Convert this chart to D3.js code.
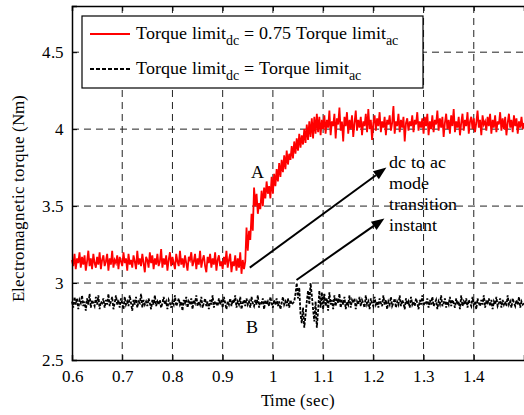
<!DOCTYPE html>
<html><head><meta charset="utf-8"><script src="https://cdn.jsdelivr.net/npm/d3@7"></script>
<style>
  @font-face { font-family: "ChartSerif"; src: local("Liberation Serif"), local("LiberationSerif"), local("LiberationSerif-Regular"); }
</style>
</head>
<body style="margin:0">
<svg width="524" height="415"></svg>
<script>
// sample grid: t = t0 + i * dt
const t0 = 0.6, dt = 0.0025;

// Torque limit_dc = 0.75 Torque limit_ac (red)
const redTorque = [
  3.15,3.11,3.19,3.09,3.16,3.13,3.20,3.10,3.17,3.12,
  3.18,3.08,3.14,3.21,3.11,3.16,3.09,3.19,3.13,3.10,
  3.17,3.12,3.20,3.09,3.15,3.18,3.11,3.14,3.19,3.08,
  3.16,3.12,3.21,3.10,3.15,3.13,3.18,3.09,3.17,3.14,
  3.11,3.20,3.13,3.16,3.08,3.19,3.12,3.15,3.10,3.18,
  3.14,3.09,3.21,3.12,3.16,3.11,3.19,3.13,3.07,3.17,
  3.15,3.10,3.20,3.13,3.18,3.09,3.16,3.12,3.19,3.11,
  3.14,3.22,3.10,3.16,3.12,3.18,3.08,3.15,3.20,3.11,
  3.17,3.13,3.09,3.19,3.14,3.11,3.21,3.12,3.16,3.10,
  3.18,3.13,3.08,3.17,3.15,3.20,3.11,3.14,3.19,3.09,
  3.16,3.12,3.21,3.10,3.15,3.18,3.11,3.07,3.17,3.13,
  3.19,3.10,3.16,3.12,3.20,3.08,3.15,3.18,3.11,3.14,
  3.09,3.17,3.12,3.21,3.10,3.15,3.19,3.07,3.14,3.11,
  3.18,3.08,3.16,3.10,3.20,3.06,3.15,3.09,
  3.14,3.36,3.21,3.34,3.28,3.45,3.34,3.62,3.50,3.58,
  3.45,3.52,3.48,3.60,3.50,3.62,3.55,3.66,3.58,3.63,
  3.55,3.69,3.58,3.71,3.63,3.74,3.66,3.78,3.69,3.80,
  3.72,3.83,3.74,3.86,3.77,3.84,3.80,3.89,3.81,3.92,
  3.84,3.94,3.86,3.97,3.88,3.96,3.90,4.00,3.91,4.03,
  3.93,4.05,3.95,4.07,3.94,4.08,3.97,4.10,3.98,4.08,
  3.96,4.06,
  4.00,4.09,3.97,4.06,4.01,4.12,3.96,4.05,4.02,4.10,
  3.94,4.07,4.03,4.14,3.99,4.05,3.92,4.08,4.02,4.11,
  3.97,4.06,4.00,4.09,3.95,4.04,4.12,3.99,4.06,4.01,
  4.08,3.96,4.05,4.02,4.10,3.98,4.13,4.00,4.06,3.93,
  4.04,4.09,3.99,4.07,4.02,4.11,3.98,4.05,4.01,4.08,
  3.96,4.06,4.03,4.09,3.99,4.04,4.15,3.97,4.05,4.02,
  4.10,3.98,4.06,4.01,4.08,3.92,4.04,4.07,3.99,4.05,
  4.02,4.09,3.98,4.06,4.03,4.11,3.99,4.05,4.01,4.07,
  3.97,4.08,4.02,4.10,3.96,4.05,4.00,4.09,3.98,4.06,
  4.03,4.12,3.99,4.07,4.01,4.08,3.95,4.04,4.10,4.00,
  4.06,3.97,4.09,4.02,4.13,3.98,4.05,4.01,4.08,3.96,
  4.04,4.10,3.99,4.06,4.02,4.11,3.97,4.05,4.08,4.00,
  4.07,3.98,4.04,4.12,4.01,4.06,3.96,4.09,4.03,4.05,
  3.99,4.08,4.02,4.10,3.97,4.06,4.01,4.09,3.98,4.05,
  4.03,4.11,3.99,4.07,4.00,4.08,3.96,4.04,4.10,4.01,
  4.06,3.98,4.09,4.02,4.07,3.97,4.05,4.01,4.08,4.00,
  4.04
];

// Torque limit_dc = Torque limit_ac (black dashed)
const blackTorque = [
  2.88,2.84,2.91,2.86,2.90,2.83,2.89,2.87,2.92,2.85,
  2.88,2.82,2.90,2.86,2.93,2.84,2.89,2.87,2.85,2.91,
  2.86,2.92,2.83,2.88,2.87,2.90,2.84,2.89,2.86,2.93,
  2.85,2.88,2.91,2.83,2.87,2.92,2.86,2.89,2.84,2.90,
  2.87,2.83,2.91,2.86,2.88,2.85,2.92,2.87,2.82,2.89,
  2.86,2.91,2.84,2.88,2.87,2.93,2.84,2.89,2.86,2.88,
  2.85,2.90,2.87,2.83,2.89,2.86,2.92,2.85,2.88,2.86,
  2.89,2.84,2.87,2.91,2.86,2.88,2.83,2.89,2.87,2.84,
  2.88,2.86,2.92,2.85,2.87,2.90,2.86,2.88,2.82,2.89,
  2.87,2.91,2.84,2.88,2.86,2.90,2.83,2.89,2.87,2.92,
  2.85,2.88,2.86,2.91,2.84,2.87,2.90,2.85,2.88,2.83,
  2.89,2.86,2.92,2.84,2.88,2.87,2.85,2.90,2.86,2.89,
  2.84,2.91,2.87,2.83,2.88,2.86,2.90,2.85,2.89,2.87,
  2.92,2.84,2.88,2.86,2.91,2.83,2.87,2.89,2.85,2.90,
  2.86,2.88,2.84,2.91,2.87,2.85,2.89,2.86,2.92,2.84,
  2.88,2.87,2.90,2.83,2.89,2.86,2.88,2.85,2.91,2.87,
  2.84,2.89,2.86,2.90,2.85,2.88,2.83,2.87,2.91,2.86,
  2.88,2.85,2.90,2.84,2.89,2.86,2.87,2.88,
  2.93,3.00,2.90,2.97,2.80,2.74,2.84,2.71,2.79,2.88,
  2.95,2.86,3.00,2.92,2.83,2.75,2.88,2.71,2.82,2.95,
  2.84,2.94,
  2.83,2.93,2.85,2.90,2.82,2.94,2.86,2.89,2.83,2.92,
  2.85,2.90,2.87,2.93,2.84,2.89,2.86,2.91,2.83,2.88,
  2.86,2.92,2.84,2.89,2.87,2.90,2.83,2.88,2.86,2.91,
  2.85,2.89,2.87,2.84,2.92,2.86,2.88,2.83,2.90,2.87,
  2.85,2.91,2.86,2.88,2.84,2.90,2.87,2.85,2.92,2.86,
  2.89,2.83,2.88,2.86,2.91,2.85,2.87,2.90,2.84,2.88,
  2.86,2.92,2.85,2.89,2.87,2.83,2.90,2.86,2.88,2.84,
  2.91,2.86,2.88,2.85,2.90,2.87,2.83,2.89,2.86,2.92,
  2.85,2.88,2.87,2.90,2.84,2.89,2.86,2.91,2.85,2.87,
  2.89,2.83,2.88,2.86,2.92,2.85,2.87,2.90,2.84,2.88,
  2.86,2.91,2.85,2.89,2.87,2.84,2.90,2.86,2.88,2.83,
  2.92,2.85,2.88,2.86,2.90,2.84,2.89,2.87,2.85,2.91,
  2.86,2.88,2.83,2.90,2.87,2.85,2.89,2.86,2.92,2.84,
  2.88,2.87,2.90,2.85,2.89,2.83,2.88,2.86,2.91,2.85,
  2.87,2.90,2.84,2.89,2.86,2.88,2.85,2.92,2.86,2.88,
  2.84,2.90,2.87,2.85,2.89,2.86,2.91,2.84,2.88,2.86,
  2.87
];

const xTicks = [0.6, 0.7, 0.8, 0.9, 1, 1.1, 1.2, 1.3, 1.4];
const yTicks = [2.5, 3, 3.5, 4, 4.5];

// annotations in data units
const arrows = [
  { from: [0.954, 3.10], to: [1.226, 3.75] },
  { from: [1.047, 3.02], to: [1.222, 3.42] }
];
const noteLines = ["dc to ac", "mode", "transition", "instant"];
const notePos = [1.232, 3.745];
const labelA = { text: "A", t: 0.970, v: 3.68 };
const labelB = { text: "B", t: 0.958, v: 2.675 };

const FONT = "ChartSerif, 'Liberation Serif', 'Times New Roman', serif";

const svg = d3.select("svg"),
      margin = { top: 6, right: 0, bottom: 55, left: 72 },
      width = +svg.attr("width") - margin.left - margin.right,
      height = +svg.attr("height") - margin.top - margin.bottom;

const g = svg.append("g").attr("transform", `translate(${margin.left},${margin.top})`);

const x = d3.scaleLinear().domain([0.6, 1.5]).range([0, width]);
const y = d3.scaleLinear().domain([2.5, 4.8]).range([height, 0]);

// grid
g.append("g")
  .selectAll("line")
  .data(xTicks.slice(1))
  .enter().append("line")
  .attr("x1", d => x(d)).attr("x2", d => x(d))
  .attr("y1", 0).attr("y2", height)
  .attr("stroke", "#222").attr("stroke-width", 1)
  .attr("stroke-dasharray", "7,5");

g.append("g")
  .selectAll("line")
  .data(yTicks.slice(1))
  .enter().append("line")
  .attr("x1", 0).attr("x2", width)
  .attr("y1", d => y(d)).attr("y2", d => y(d))
  .attr("stroke", "#222").attr("stroke-width", 1)
  .attr("stroke-dasharray", "7,5");

// series
const line = d3.line()
  .x((d, i) => x(t0 + i * dt))
  .y(d => y(d));

g.append("path")
  .datum(blackTorque)
  .attr("fill", "none")
  .attr("stroke", "#000")
  .attr("stroke-width", 1.8)
  .attr("stroke-dasharray", "3,1.5")
  .attr("d", line);

g.append("path")
  .datum(redTorque)
  .attr("fill", "none")
  .attr("stroke", "#ff0000")
  .attr("stroke-width", 1.8)
  .attr("d", line);

// axes
g.append("g")
  .attr("transform", `translate(0,${height})`)
  .call(d3.axisBottom(x).tickValues(xTicks).tickSize(-5).tickPadding(10).tickFormat(d3.format("")))
  .attr("font-family", FONT)
  .attr("font-size", 17)
  .call(a => a.select(".domain").attr("stroke-width", 1.5));

g.append("g")
  .call(d3.axisTop(x).tickValues(xTicks).tickSize(-5).tickFormat(""))
  .call(a => a.select(".domain").attr("stroke-width", 1.5));

g.append("g")
  .call(d3.axisLeft(y).tickValues(yTicks).tickSize(-5).tickPadding(8).tickFormat(d3.format("")))
  .attr("font-family", FONT)
  .attr("font-size", 17)
  .call(a => a.select(".domain").attr("stroke-width", 1.5));

// arrows, heads drawn as plain triangles
arrows.forEach(a => {
  const x1 = x(a.from[0]), y1 = y(a.from[1]);
  const x2 = x(a.to[0]), y2 = y(a.to[1]);
  const ang = Math.atan2(y2 - y1, x2 - x1);
  const len = 13, half = 5;
  const bx = x2 - len * Math.cos(ang), by = y2 - len * Math.sin(ang);
  g.append("line")
    .attr("x1", x1).attr("y1", y1)
    .attr("x2", bx).attr("y2", by)
    .attr("stroke", "#000").attr("stroke-width", 2);
  g.append("path")
    .attr("d", `M${x2},${y2}L${bx - half * Math.sin(ang)},${by + half * Math.cos(ang)}L${bx + half * Math.sin(ang)},${by - half * Math.cos(ang)}Z`)
    .attr("fill", "#000");
});

const note = g.append("text")
  .attr("x", x(notePos[0]))
  .attr("y", y(notePos[1]))
  .attr("font-family", FONT)
  .attr("font-size", 18);
note.selectAll("tspan")
  .data(noteLines)
  .enter().append("tspan")
  .attr("x", x(notePos[0]))
  .attr("dy", (d, i) => i === 0 ? 0 : 21)
  .text(d => d);

[labelA, labelB].forEach(l => {
  g.append("text")
    .attr("x", x(l.t)).attr("y", y(l.v))
    .attr("text-anchor", "middle")
    .attr("font-family", FONT)
    .attr("font-size", 18)
    .text(l.text);
});

// legend
const legend = svg.append("g").attr("transform", "translate(82,16)");
legend.append("rect")
  .attr("width", 341).attr("height", 72)
  .attr("fill", "#fff").attr("stroke", "#000").attr("stroke-width", 1.2);

const legendItems = [
  { pre: "Torque limit", sub1: "dc", mid: " = 0.75 Torque limit", sub2: "ac", color: "#ff0000", dash: null },
  { pre: "Torque limit", sub1: "dc", mid: " = Torque limit", sub2: "ac", color: "#000", dash: "4,2" }
];

legendItems.forEach((d, i) => {
  const yy = 18 + i * 35;
  legend.append("line")
    .attr("x1", 8).attr("x2", 48)
    .attr("y1", yy).attr("y2", yy)
    .attr("stroke", d.color).attr("stroke-width", 2)
    .attr("stroke-dasharray", d.dash);
  const t = legend.append("text")
    .attr("x", 54).attr("y", yy + 5)
    .attr("font-family", FONT)
    .attr("font-size", 18);
  t.append("tspan").text(d.pre);
  t.append("tspan").attr("dy", 6).attr("font-size", 14).text(d.sub1);
  t.append("tspan").attr("dy", -6).text(d.mid);
  t.append("tspan").attr("dy", 6).attr("font-size", 14).text(d.sub2);
});

// axis titles
svg.append("text")
  .attr("x", margin.left + x(1.05))
  .attr("y", 406)
  .attr("text-anchor", "middle")
  .attr("font-family", FONT)
  .attr("font-size", 17)
  .text("Time (sec)");

svg.append("text")
  .attr("transform", `translate(24,${margin.top + y(3.55)}) rotate(-90)`)
  .attr("text-anchor", "middle")
  .attr("font-family", FONT)
  .attr("font-size", 17)
  .text("Electromagnetic torque (Nm)");
</script>
</body></html>
